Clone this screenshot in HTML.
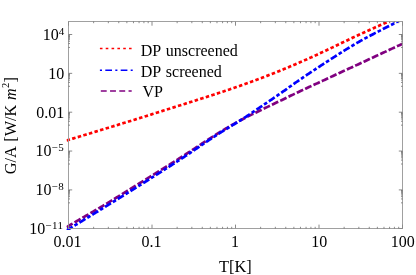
<!DOCTYPE html>
<html><head><meta charset="utf-8"><style>
html,body{margin:0;padding:0;background:#fff;}
svg{display:block;}
text{font-family:"Liberation Serif",serif;font-size:16px;fill:#000;word-spacing:1.3px;}
.t{font-size:16px;}
.sup{font-size:11px;}
.fr line,.fr rect{stroke:#a0a0a0;stroke-width:1;fill:none;}
.fr line.m{stroke:#666;stroke-width:0.75;}
.fr line.M{stroke:#8a8a8a;}
.c{fill:none;stroke-width:2.7;}
</style></head><body>
<svg style="will-change:transform" width="416" height="275" viewBox="0 0 416 275">
<rect width="416" height="275" fill="#fff"/>
<defs><clipPath id="cp"><rect x="66.5" y="21.5" width="336.0" height="208.6"/></clipPath></defs>
<g clip-path="url(#cp)">
<path class="c" d="M66.60,140.47 L67.60,140.17 L68.60,139.87 L69.60,139.57 L70.60,139.27 L71.60,138.97 L72.60,138.66 L73.60,138.36 L74.60,138.06 L75.60,137.76 L76.60,137.45 L77.60,137.15 L78.60,136.85 L79.60,136.54 L80.60,136.24 L81.60,135.93 L82.60,135.63 L83.59,135.32 L84.59,135.02 L85.59,134.71 L86.59,134.41 L87.59,134.10 L88.59,133.79 L89.59,133.49 L90.59,133.18 L91.59,132.88 L92.59,132.57 L93.59,132.26 L94.59,131.96 L95.59,131.65 L96.59,131.34 L97.59,131.04 L98.59,130.73 L99.59,130.43 L100.59,130.12 L101.59,129.81 L102.59,129.51 L103.59,129.20 L104.59,128.90 L105.59,128.59 L106.59,128.29 L107.59,127.98 L108.59,127.67 L109.59,127.37 L110.59,127.06 L111.59,126.76 L112.59,126.45 L113.59,126.15 L114.59,125.84 L115.59,125.53 L116.59,125.23 L117.58,124.92 L118.58,124.61 L119.58,124.31 L120.58,124.00 L121.58,123.69 L122.58,123.39 L123.58,123.08 L124.58,122.77 L125.58,122.46 L126.58,122.16 L127.58,121.85 L128.58,121.54 L129.58,121.23 L130.58,120.92 L131.58,120.61 L132.58,120.30 L133.58,119.99 L134.58,119.68 L135.58,119.37 L136.58,119.06 L137.58,118.75 L138.58,118.43 L139.58,118.12 L140.58,117.81 L141.58,117.50 L142.58,117.18 L143.58,116.87 L144.58,116.56 L145.58,116.24 L146.58,115.93 L147.58,115.62 L148.58,115.30 L149.58,114.99 L150.57,114.67 L151.57,114.36 L152.57,114.04 L153.57,113.73 L154.57,113.41 L155.57,113.10 L156.57,112.78 L157.57,112.47 L158.57,112.15 L159.57,111.84 L160.57,111.52 L161.57,111.20 L162.57,110.89 L163.57,110.57 L164.57,110.25 L165.57,109.94 L166.57,109.62 L167.57,109.30 L168.57,108.99 L169.57,108.67 L170.57,108.35 L171.57,108.04 L172.57,107.72 L173.57,107.40 L174.57,107.09 L175.57,106.77 L176.57,106.45 L177.57,106.14 L178.57,105.82 L179.57,105.50 L180.57,105.19 L181.57,104.87 L182.57,104.55 L183.57,104.24 L184.56,103.92 L185.56,103.60 L186.56,103.29 L187.56,102.97 L188.56,102.65 L189.56,102.34 L190.56,102.02 L191.56,101.71 L192.56,101.39 L193.56,101.07 L194.56,100.76 L195.56,100.44 L196.56,100.13 L197.56,99.81 L198.56,99.49 L199.56,99.18 L200.56,98.86 L201.56,98.54 L202.56,98.22 L203.56,97.91 L204.56,97.59 L205.56,97.27 L206.56,96.95 L207.56,96.63 L208.56,96.31 L209.56,95.99 L210.56,95.67 L211.56,95.35 L212.56,95.03 L213.56,94.70 L214.56,94.38 L215.56,94.05 L216.56,93.73 L217.56,93.40 L218.55,93.07 L219.55,92.75 L220.55,92.42 L221.55,92.09 L222.55,91.76 L223.55,91.42 L224.55,91.09 L225.55,90.76 L226.55,90.42 L227.55,90.09 L228.55,89.75 L229.55,89.41 L230.55,89.07 L231.55,88.73 L232.55,88.39 L233.55,88.04 L234.55,87.70 L235.55,87.35 L236.55,87.01 L237.55,86.66 L238.55,86.31 L239.55,85.96 L240.55,85.61 L241.55,85.25 L242.55,84.90 L243.55,84.54 L244.55,84.18 L245.55,83.83 L246.55,83.47 L247.55,83.10 L248.55,82.74 L249.55,82.38 L250.55,82.01 L251.54,81.65 L252.54,81.28 L253.54,80.91 L254.54,80.54 L255.54,80.17 L256.54,79.80 L257.54,79.42 L258.54,79.05 L259.54,78.67 L260.54,78.30 L261.54,77.92 L262.54,77.54 L263.54,77.16 L264.54,76.78 L265.54,76.39 L266.54,76.01 L267.54,75.62 L268.54,75.24 L269.54,74.85 L270.54,74.46 L271.54,74.07 L272.54,73.67 L273.54,73.28 L274.54,72.89 L275.54,72.49 L276.54,72.09 L277.54,71.69 L278.54,71.29 L279.54,70.89 L280.54,70.48 L281.54,70.08 L282.54,69.67 L283.54,69.26 L284.54,68.85 L285.53,68.44 L286.53,68.02 L287.53,67.61 L288.53,67.19 L289.53,66.77 L290.53,66.35 L291.53,65.93 L292.53,65.51 L293.53,65.08 L294.53,64.66 L295.53,64.23 L296.53,63.80 L297.53,63.37 L298.53,62.94 L299.53,62.50 L300.53,62.07 L301.53,61.63 L302.53,61.19 L303.53,60.75 L304.53,60.31 L305.53,59.87 L306.53,59.43 L307.53,58.98 L308.53,58.53 L309.53,58.09 L310.53,57.64 L311.53,57.19 L312.53,56.73 L313.53,56.28 L314.53,55.82 L315.53,55.36 L316.53,54.91 L317.53,54.45 L318.52,53.98 L319.52,53.52 L320.52,53.06 L321.52,52.59 L322.52,52.12 L323.52,51.65 L324.52,51.18 L325.52,50.71 L326.52,50.24 L327.52,49.77 L328.52,49.29 L329.52,48.82 L330.52,48.34 L331.52,47.86 L332.52,47.39 L333.52,46.91 L334.52,46.43 L335.52,45.95 L336.52,45.47 L337.52,44.99 L338.52,44.51 L339.52,44.03 L340.52,43.55 L341.52,43.07 L342.52,42.59 L343.52,42.11 L344.52,41.63 L345.52,41.15 L346.52,40.67 L347.52,40.19 L348.52,39.71 L349.52,39.24 L350.52,38.76 L351.52,38.28 L352.51,37.81 L353.51,37.34 L354.51,36.86 L355.51,36.39 L356.51,35.92 L357.51,35.46 L358.51,34.99 L359.51,34.53 L360.51,34.06 L361.51,33.60 L362.51,33.14 L363.51,32.69 L364.51,32.23 L365.51,31.78 L366.51,31.32 L367.51,30.87 L368.51,30.42 L369.51,29.97 L370.51,29.52 L371.51,29.07 L372.51,28.63 L373.51,28.18 L374.51,27.74 L375.51,27.29 L376.51,26.85 L377.51,26.40 L378.51,25.96 L379.51,25.52 L380.51,25.08 L381.51,24.63 L382.51,24.19 L383.51,23.75 L384.51,23.30 L385.51,22.86 L386.50,22.42 L387.50,21.97 L388.50,21.53 L389.50,21.08 L390.50,20.64 L391.50,20.19 L392.50,19.74 L393.50,19.29 L394.50,18.85 L395.50,18.39 L396.50,17.94 L397.50,17.49 L398.50,17.03 L399.50,16.58 L400.50,16.12 L401.50,15.66 L402.50,15.20" stroke="#ff0000" stroke-dasharray="3.5 2.33"/>
<path class="c" d="M66.60,227.14 L67.60,226.54 L68.60,225.94 L69.60,225.34 L70.60,224.75 L71.60,224.16 L72.60,223.57 L73.60,222.98 L74.60,222.39 L75.60,221.81 L76.60,221.23 L77.60,220.64 L78.60,220.06 L79.60,219.48 L80.60,218.90 L81.60,218.32 L82.60,217.74 L83.59,217.16 L84.59,216.59 L85.59,216.01 L86.59,215.43 L87.59,214.85 L88.59,214.27 L89.59,213.69 L90.59,213.11 L91.59,212.53 L92.59,211.95 L93.59,211.37 L94.59,210.79 L95.59,210.20 L96.59,209.61 L97.59,209.03 L98.59,208.44 L99.59,207.84 L100.59,207.25 L101.59,206.65 L102.59,206.06 L103.59,205.46 L104.59,204.85 L105.59,204.25 L106.59,203.64 L107.59,203.04 L108.59,202.43 L109.59,201.82 L110.59,201.21 L111.59,200.60 L112.59,199.98 L113.59,199.37 L114.59,198.75 L115.59,198.14 L116.59,197.52 L117.58,196.90 L118.58,196.28 L119.58,195.67 L120.58,195.05 L121.58,194.43 L122.58,193.81 L123.58,193.18 L124.58,192.56 L125.58,191.94 L126.58,191.32 L127.58,190.70 L128.58,190.08 L129.58,189.46 L130.58,188.84 L131.58,188.22 L132.58,187.60 L133.58,186.98 L134.58,186.36 L135.58,185.74 L136.58,185.12 L137.58,184.51 L138.58,183.89 L139.58,183.27 L140.58,182.65 L141.58,182.03 L142.58,181.41 L143.58,180.79 L144.58,180.18 L145.58,179.56 L146.58,178.94 L147.58,178.32 L148.58,177.70 L149.58,177.08 L150.57,176.46 L151.57,175.84 L152.57,175.22 L153.57,174.60 L154.57,173.98 L155.57,173.36 L156.57,172.74 L157.57,172.11 L158.57,171.49 L159.57,170.87 L160.57,170.24 L161.57,169.62 L162.57,168.99 L163.57,168.37 L164.57,167.74 L165.57,167.11 L166.57,166.49 L167.57,165.86 L168.57,165.23 L169.57,164.60 L170.57,163.97 L171.57,163.33 L172.57,162.70 L173.57,162.07 L174.57,161.43 L175.57,160.80 L176.57,160.16 L177.57,159.52 L178.57,158.88 L179.57,158.24 L180.57,157.60 L181.57,156.96 L182.57,156.32 L183.57,155.67 L184.56,155.03 L185.56,154.38 L186.56,153.74 L187.56,153.09 L188.56,152.44 L189.56,151.78 L190.56,151.13 L191.56,150.48 L192.56,149.82 L193.56,149.17 L194.56,148.51 L195.56,147.85 L196.56,147.20 L197.56,146.54 L198.56,145.88 L199.56,145.22 L200.56,144.57 L201.56,143.91 L202.56,143.25 L203.56,142.60 L204.56,141.94 L205.56,141.29 L206.56,140.64 L207.56,139.99 L208.56,139.34 L209.56,138.69 L210.56,138.05 L211.56,137.41 L212.56,136.77 L213.56,136.13 L214.56,135.50 L215.56,134.87 L216.56,134.24 L217.56,133.61 L218.55,132.99 L219.55,132.37 L220.55,131.76 L221.55,131.15 L222.55,130.54 L223.55,129.94 L224.55,129.34 L225.55,128.75 L226.55,128.16 L227.55,127.57 L228.55,126.99 L229.55,126.41 L230.55,125.84 L231.55,125.26 L232.55,124.70 L233.55,124.14 L234.55,123.58 L235.55,123.02 L236.55,122.47 L237.55,121.92 L238.55,121.38 L239.55,120.84 L240.55,120.31 L241.55,119.78 L242.55,119.25 L243.55,118.73 L244.55,118.21 L245.55,117.69 L246.55,117.18 L247.55,116.66 L248.55,116.16 L249.55,115.65 L250.55,115.15 L251.54,114.65 L252.54,114.15 L253.54,113.66 L254.54,113.16 L255.54,112.67 L256.54,112.18 L257.54,111.69 L258.54,111.21 L259.54,110.72 L260.54,110.24 L261.54,109.75 L262.54,109.27 L263.54,108.79 L264.54,108.31 L265.54,107.83 L266.54,107.35 L267.54,106.87 L268.54,106.39 L269.54,105.91 L270.54,105.43 L271.54,104.95 L272.54,104.47 L273.54,104.00 L274.54,103.52 L275.54,103.04 L276.54,102.56 L277.54,102.08 L278.54,101.60 L279.54,101.12 L280.54,100.64 L281.54,100.16 L282.54,99.68 L283.54,99.20 L284.54,98.72 L285.53,98.23 L286.53,97.75 L287.53,97.27 L288.53,96.79 L289.53,96.30 L290.53,95.82 L291.53,95.34 L292.53,94.86 L293.53,94.38 L294.53,93.90 L295.53,93.42 L296.53,92.95 L297.53,92.47 L298.53,92.00 L299.53,91.52 L300.53,91.05 L301.53,90.58 L302.53,90.11 L303.53,89.64 L304.53,89.17 L305.53,88.71 L306.53,88.24 L307.53,87.77 L308.53,87.31 L309.53,86.85 L310.53,86.38 L311.53,85.92 L312.53,85.46 L313.53,85.00 L314.53,84.53 L315.53,84.07 L316.53,83.61 L317.53,83.15 L318.52,82.68 L319.52,82.22 L320.52,81.76 L321.52,81.29 L322.52,80.83 L323.52,80.36 L324.52,79.90 L325.52,79.43 L326.52,78.97 L327.52,78.50 L328.52,78.04 L329.52,77.57 L330.52,77.10 L331.52,76.64 L332.52,76.17 L333.52,75.71 L334.52,75.24 L335.52,74.78 L336.52,74.31 L337.52,73.85 L338.52,73.39 L339.52,72.92 L340.52,72.46 L341.52,72.00 L342.52,71.54 L343.52,71.08 L344.52,70.62 L345.52,70.16 L346.52,69.70 L347.52,69.24 L348.52,68.78 L349.52,68.32 L350.52,67.86 L351.52,67.40 L352.51,66.94 L353.51,66.48 L354.51,66.03 L355.51,65.57 L356.51,65.11 L357.51,64.65 L358.51,64.19 L359.51,63.72 L360.51,63.26 L361.51,62.80 L362.51,62.34 L363.51,61.88 L364.51,61.41 L365.51,60.95 L366.51,60.48 L367.51,60.02 L368.51,59.55 L369.51,59.09 L370.51,58.62 L371.51,58.16 L372.51,57.69 L373.51,57.23 L374.51,56.76 L375.51,56.29 L376.51,55.83 L377.51,55.36 L378.51,54.90 L379.51,54.43 L380.51,53.96 L381.51,53.50 L382.51,53.03 L383.51,52.57 L384.51,52.10 L385.51,51.64 L386.50,51.17 L387.50,50.71 L388.50,50.24 L389.50,49.78 L390.50,49.32 L391.50,48.85 L392.50,48.39 L393.50,47.93 L394.50,47.47 L395.50,47.01 L396.50,46.55 L397.50,46.09 L398.50,45.63 L399.50,45.17 L400.50,44.71 L401.50,44.26 L402.50,43.80" stroke="#800080" stroke-dasharray="7 2.2"/>
<path class="c" d="M66.60,230.34 L67.60,229.74 L68.60,229.14 L69.60,228.54 L70.60,227.94 L71.60,227.34 L72.60,226.73 L73.60,226.13 L74.60,225.52 L75.60,224.92 L76.60,224.31 L77.60,223.71 L78.60,223.10 L79.60,222.49 L80.60,221.89 L81.60,221.28 L82.60,220.67 L83.59,220.06 L84.59,219.45 L85.59,218.84 L86.59,218.23 L87.59,217.62 L88.59,217.01 L89.59,216.39 L90.59,215.78 L91.59,215.17 L92.59,214.55 L93.59,213.94 L94.59,213.33 L95.59,212.71 L96.59,212.10 L97.59,211.48 L98.59,210.87 L99.59,210.25 L100.59,209.64 L101.59,209.02 L102.59,208.40 L103.59,207.79 L104.59,207.17 L105.59,206.55 L106.59,205.94 L107.59,205.32 L108.59,204.70 L109.59,204.08 L110.59,203.47 L111.59,202.85 L112.59,202.23 L113.59,201.61 L114.59,200.99 L115.59,200.37 L116.59,199.75 L117.58,199.13 L118.58,198.51 L119.58,197.89 L120.58,197.27 L121.58,196.65 L122.58,196.02 L123.58,195.40 L124.58,194.78 L125.58,194.16 L126.58,193.53 L127.58,192.91 L128.58,192.29 L129.58,191.66 L130.58,191.04 L131.58,190.41 L132.58,189.79 L133.58,189.16 L134.58,188.54 L135.58,187.91 L136.58,187.28 L137.58,186.66 L138.58,186.03 L139.58,185.40 L140.58,184.77 L141.58,184.14 L142.58,183.52 L143.58,182.89 L144.58,182.26 L145.58,181.63 L146.58,181.00 L147.58,180.37 L148.58,179.74 L149.58,179.10 L150.57,178.47 L151.57,177.84 L152.57,177.21 L153.57,176.58 L154.57,175.94 L155.57,175.31 L156.57,174.68 L157.57,174.04 L158.57,173.41 L159.57,172.77 L160.57,172.14 L161.57,171.50 L162.57,170.86 L163.57,170.23 L164.57,169.59 L165.57,168.95 L166.57,168.31 L167.57,167.67 L168.57,167.03 L169.57,166.39 L170.57,165.75 L171.57,165.11 L172.57,164.46 L173.57,163.82 L174.57,163.17 L175.57,162.52 L176.57,161.88 L177.57,161.23 L178.57,160.57 L179.57,159.92 L180.57,159.27 L181.57,158.61 L182.57,157.95 L183.57,157.29 L184.56,156.63 L185.56,155.97 L186.56,155.30 L187.56,154.63 L188.56,153.97 L189.56,153.29 L190.56,152.62 L191.56,151.95 L192.56,151.27 L193.56,150.59 L194.56,149.91 L195.56,149.23 L196.56,148.55 L197.56,147.86 L198.56,147.18 L199.56,146.50 L200.56,145.82 L201.56,145.13 L202.56,144.45 L203.56,143.77 L204.56,143.09 L205.56,142.41 L206.56,141.73 L207.56,141.06 L208.56,140.39 L209.56,139.71 L210.56,139.05 L211.56,138.38 L212.56,137.72 L213.56,137.06 L214.56,136.40 L215.56,135.75 L216.56,135.10 L217.56,134.46 L218.55,133.82 L219.55,133.18 L220.55,132.55 L221.55,131.93 L222.55,131.30 L223.55,130.69 L224.55,130.07 L225.55,129.46 L226.55,128.85 L227.55,128.24 L228.55,127.63 L229.55,127.03 L230.55,126.42 L231.55,125.81 L232.55,125.21 L233.55,124.60 L234.55,123.99 L235.55,123.37 L236.55,122.76 L237.55,122.14 L238.55,121.51 L239.55,120.89 L240.55,120.25 L241.55,119.61 L242.55,118.97 L243.55,118.32 L244.55,117.67 L245.55,117.02 L246.55,116.36 L247.55,115.70 L248.55,115.03 L249.55,114.36 L250.55,113.69 L251.54,113.02 L252.54,112.35 L253.54,111.67 L254.54,111.00 L255.54,110.32 L256.54,109.64 L257.54,108.96 L258.54,108.29 L259.54,107.61 L260.54,106.93 L261.54,106.26 L262.54,105.58 L263.54,104.91 L264.54,104.23 L265.54,103.56 L266.54,102.89 L267.54,102.21 L268.54,101.54 L269.54,100.86 L270.54,100.18 L271.54,99.51 L272.54,98.83 L273.54,98.15 L274.54,97.47 L275.54,96.78 L276.54,96.09 L277.54,95.41 L278.54,94.72 L279.54,94.02 L280.54,93.33 L281.54,92.63 L282.54,91.93 L283.54,91.22 L284.54,90.52 L285.53,89.81 L286.53,89.10 L287.53,88.39 L288.53,87.68 L289.53,86.97 L290.53,86.26 L291.53,85.55 L292.53,84.85 L293.53,84.14 L294.53,83.43 L295.53,82.73 L296.53,82.02 L297.53,81.32 L298.53,80.62 L299.53,79.93 L300.53,79.23 L301.53,78.54 L302.53,77.86 L303.53,77.17 L304.53,76.49 L305.53,75.81 L306.53,75.13 L307.53,74.46 L308.53,73.79 L309.53,73.12 L310.53,72.45 L311.53,71.79 L312.53,71.12 L313.53,70.46 L314.53,69.80 L315.53,69.14 L316.53,68.48 L317.53,67.82 L318.52,67.17 L319.52,66.51 L320.52,65.86 L321.52,65.20 L322.52,64.55 L323.52,63.90 L324.52,63.25 L325.52,62.60 L326.52,61.95 L327.52,61.30 L328.52,60.65 L329.52,60.00 L330.52,59.36 L331.52,58.71 L332.52,58.07 L333.52,57.43 L334.52,56.79 L335.52,56.15 L336.52,55.51 L337.52,54.87 L338.52,54.24 L339.52,53.60 L340.52,52.97 L341.52,52.34 L342.52,51.71 L343.52,51.09 L344.52,50.46 L345.52,49.84 L346.52,49.22 L347.52,48.60 L348.52,47.99 L349.52,47.38 L350.52,46.77 L351.52,46.17 L352.51,45.57 L353.51,44.97 L354.51,44.38 L355.51,43.79 L356.51,43.20 L357.51,42.62 L358.51,42.05 L359.51,41.48 L360.51,40.91 L361.51,40.35 L362.51,39.79 L363.51,39.24 L364.51,38.69 L365.51,38.15 L366.51,37.61 L367.51,37.08 L368.51,36.54 L369.51,36.02 L370.51,35.49 L371.51,34.97 L372.51,34.44 L373.51,33.93 L374.51,33.41 L375.51,32.90 L376.51,32.38 L377.51,31.87 L378.51,31.36 L379.51,30.85 L380.51,30.34 L381.51,29.83 L382.51,29.33 L383.51,28.82 L384.51,28.31 L385.51,27.80 L386.50,27.29 L387.50,26.79 L388.50,26.27 L389.50,25.76 L390.50,25.25 L391.50,24.74 L392.50,24.22 L393.50,23.70 L394.50,23.18 L395.50,22.66 L396.50,22.13 L397.50,21.60 L398.50,21.07 L399.50,20.53 L400.50,19.99 L401.50,19.45 L402.50,18.90" stroke="#0000ff" stroke-dasharray="7 2.2 3.6 2.2"/>
</g>
<g class="fr">
<rect x="68.5" y="21.5" width="334.0" height="207.0"/>
<line x1="68.50" y1="228.5" x2="68.50" y2="224.6" class="M"/><line x1="68.50" y1="21.5" x2="68.50" y2="25.7" class="M"/><line x1="93.64" y1="228.5" x2="93.64" y2="226.8" class="m"/><line x1="93.64" y1="21.5" x2="93.64" y2="23.2" class="m"/><line x1="108.34" y1="228.5" x2="108.34" y2="226.8" class="m"/><line x1="108.34" y1="21.5" x2="108.34" y2="23.2" class="m"/><line x1="118.77" y1="228.5" x2="118.77" y2="226.8" class="m"/><line x1="118.77" y1="21.5" x2="118.77" y2="23.2" class="m"/><line x1="126.86" y1="228.5" x2="126.86" y2="226.8" class="m"/><line x1="126.86" y1="21.5" x2="126.86" y2="23.2" class="m"/><line x1="133.48" y1="228.5" x2="133.48" y2="226.8" class="m"/><line x1="133.48" y1="21.5" x2="133.48" y2="23.2" class="m"/><line x1="139.07" y1="228.5" x2="139.07" y2="226.8" class="m"/><line x1="139.07" y1="21.5" x2="139.07" y2="23.2" class="m"/><line x1="143.91" y1="228.5" x2="143.91" y2="226.8" class="m"/><line x1="143.91" y1="21.5" x2="143.91" y2="23.2" class="m"/><line x1="148.18" y1="228.5" x2="148.18" y2="226.8" class="m"/><line x1="148.18" y1="21.5" x2="148.18" y2="23.2" class="m"/><line x1="152.00" y1="228.5" x2="152.00" y2="224.6" class="M"/><line x1="152.00" y1="21.5" x2="152.00" y2="25.7" class="M"/><line x1="177.14" y1="228.5" x2="177.14" y2="226.8" class="m"/><line x1="177.14" y1="21.5" x2="177.14" y2="23.2" class="m"/><line x1="191.84" y1="228.5" x2="191.84" y2="226.8" class="m"/><line x1="191.84" y1="21.5" x2="191.84" y2="23.2" class="m"/><line x1="202.27" y1="228.5" x2="202.27" y2="226.8" class="m"/><line x1="202.27" y1="21.5" x2="202.27" y2="23.2" class="m"/><line x1="210.36" y1="228.5" x2="210.36" y2="226.8" class="m"/><line x1="210.36" y1="21.5" x2="210.36" y2="23.2" class="m"/><line x1="216.98" y1="228.5" x2="216.98" y2="226.8" class="m"/><line x1="216.98" y1="21.5" x2="216.98" y2="23.2" class="m"/><line x1="222.57" y1="228.5" x2="222.57" y2="226.8" class="m"/><line x1="222.57" y1="21.5" x2="222.57" y2="23.2" class="m"/><line x1="227.41" y1="228.5" x2="227.41" y2="226.8" class="m"/><line x1="227.41" y1="21.5" x2="227.41" y2="23.2" class="m"/><line x1="231.68" y1="228.5" x2="231.68" y2="226.8" class="m"/><line x1="231.68" y1="21.5" x2="231.68" y2="23.2" class="m"/><line x1="235.50" y1="228.5" x2="235.50" y2="224.6" class="M"/><line x1="235.50" y1="21.5" x2="235.50" y2="25.7" class="M"/><line x1="260.64" y1="228.5" x2="260.64" y2="226.8" class="m"/><line x1="260.64" y1="21.5" x2="260.64" y2="23.2" class="m"/><line x1="275.34" y1="228.5" x2="275.34" y2="226.8" class="m"/><line x1="275.34" y1="21.5" x2="275.34" y2="23.2" class="m"/><line x1="285.77" y1="228.5" x2="285.77" y2="226.8" class="m"/><line x1="285.77" y1="21.5" x2="285.77" y2="23.2" class="m"/><line x1="293.86" y1="228.5" x2="293.86" y2="226.8" class="m"/><line x1="293.86" y1="21.5" x2="293.86" y2="23.2" class="m"/><line x1="300.48" y1="228.5" x2="300.48" y2="226.8" class="m"/><line x1="300.48" y1="21.5" x2="300.48" y2="23.2" class="m"/><line x1="306.07" y1="228.5" x2="306.07" y2="226.8" class="m"/><line x1="306.07" y1="21.5" x2="306.07" y2="23.2" class="m"/><line x1="310.91" y1="228.5" x2="310.91" y2="226.8" class="m"/><line x1="310.91" y1="21.5" x2="310.91" y2="23.2" class="m"/><line x1="315.18" y1="228.5" x2="315.18" y2="226.8" class="m"/><line x1="315.18" y1="21.5" x2="315.18" y2="23.2" class="m"/><line x1="319.00" y1="228.5" x2="319.00" y2="224.6" class="M"/><line x1="319.00" y1="21.5" x2="319.00" y2="25.7" class="M"/><line x1="344.14" y1="228.5" x2="344.14" y2="226.8" class="m"/><line x1="344.14" y1="21.5" x2="344.14" y2="23.2" class="m"/><line x1="358.84" y1="228.5" x2="358.84" y2="226.8" class="m"/><line x1="358.84" y1="21.5" x2="358.84" y2="23.2" class="m"/><line x1="369.27" y1="228.5" x2="369.27" y2="226.8" class="m"/><line x1="369.27" y1="21.5" x2="369.27" y2="23.2" class="m"/><line x1="377.36" y1="228.5" x2="377.36" y2="226.8" class="m"/><line x1="377.36" y1="21.5" x2="377.36" y2="23.2" class="m"/><line x1="383.98" y1="228.5" x2="383.98" y2="226.8" class="m"/><line x1="383.98" y1="21.5" x2="383.98" y2="23.2" class="m"/><line x1="389.57" y1="228.5" x2="389.57" y2="226.8" class="m"/><line x1="389.57" y1="21.5" x2="389.57" y2="23.2" class="m"/><line x1="394.41" y1="228.5" x2="394.41" y2="226.8" class="m"/><line x1="394.41" y1="21.5" x2="394.41" y2="23.2" class="m"/><line x1="398.68" y1="228.5" x2="398.68" y2="226.8" class="m"/><line x1="398.68" y1="21.5" x2="398.68" y2="23.2" class="m"/><line x1="402.50" y1="228.5" x2="402.50" y2="224.6" class="M"/><line x1="402.50" y1="21.5" x2="402.50" y2="25.7" class="M"/><line x1="68.5" y1="34.50" x2="72.2" y2="34.50" class="M"/><line x1="402.5" y1="34.50" x2="398.8" y2="34.50" class="M"/><line x1="68.5" y1="47.45" x2="70.0" y2="47.45" class="m"/><line x1="402.5" y1="47.45" x2="401.0" y2="47.45" class="m"/><line x1="68.5" y1="43.55" x2="70.0" y2="43.55" class="m"/><line x1="402.5" y1="43.55" x2="401.0" y2="43.55" class="m"/><line x1="68.5" y1="41.27" x2="70.0" y2="41.27" class="m"/><line x1="402.5" y1="41.27" x2="401.0" y2="41.27" class="m"/><line x1="68.5" y1="39.65" x2="70.0" y2="39.65" class="m"/><line x1="402.5" y1="39.65" x2="401.0" y2="39.65" class="m"/><line x1="68.5" y1="38.40" x2="70.0" y2="38.40" class="m"/><line x1="402.5" y1="38.40" x2="401.0" y2="38.40" class="m"/><line x1="68.5" y1="37.37" x2="70.0" y2="37.37" class="m"/><line x1="402.5" y1="37.37" x2="401.0" y2="37.37" class="m"/><line x1="68.5" y1="36.51" x2="70.0" y2="36.51" class="m"/><line x1="402.5" y1="36.51" x2="401.0" y2="36.51" class="m"/><line x1="68.5" y1="35.75" x2="70.0" y2="35.75" class="m"/><line x1="402.5" y1="35.75" x2="401.0" y2="35.75" class="m"/><line x1="68.5" y1="35.09" x2="70.0" y2="35.09" class="m"/><line x1="402.5" y1="35.09" x2="401.0" y2="35.09" class="m"/><line x1="68.5" y1="73.35" x2="72.2" y2="73.35" class="M"/><line x1="402.5" y1="73.35" x2="398.8" y2="73.35" class="M"/><line x1="68.5" y1="86.30" x2="70.0" y2="86.30" class="m"/><line x1="402.5" y1="86.30" x2="401.0" y2="86.30" class="m"/><line x1="68.5" y1="82.40" x2="70.0" y2="82.40" class="m"/><line x1="402.5" y1="82.40" x2="401.0" y2="82.40" class="m"/><line x1="68.5" y1="80.12" x2="70.0" y2="80.12" class="m"/><line x1="402.5" y1="80.12" x2="401.0" y2="80.12" class="m"/><line x1="68.5" y1="78.50" x2="70.0" y2="78.50" class="m"/><line x1="402.5" y1="78.50" x2="401.0" y2="78.50" class="m"/><line x1="68.5" y1="77.25" x2="70.0" y2="77.25" class="m"/><line x1="402.5" y1="77.25" x2="401.0" y2="77.25" class="m"/><line x1="68.5" y1="76.22" x2="70.0" y2="76.22" class="m"/><line x1="402.5" y1="76.22" x2="401.0" y2="76.22" class="m"/><line x1="68.5" y1="75.36" x2="70.0" y2="75.36" class="m"/><line x1="402.5" y1="75.36" x2="401.0" y2="75.36" class="m"/><line x1="68.5" y1="74.60" x2="70.0" y2="74.60" class="m"/><line x1="402.5" y1="74.60" x2="401.0" y2="74.60" class="m"/><line x1="68.5" y1="73.94" x2="70.0" y2="73.94" class="m"/><line x1="402.5" y1="73.94" x2="401.0" y2="73.94" class="m"/><line x1="68.5" y1="112.20" x2="72.2" y2="112.20" class="M"/><line x1="402.5" y1="112.20" x2="398.8" y2="112.20" class="M"/><line x1="68.5" y1="125.15" x2="70.0" y2="125.15" class="m"/><line x1="402.5" y1="125.15" x2="401.0" y2="125.15" class="m"/><line x1="68.5" y1="121.25" x2="70.0" y2="121.25" class="m"/><line x1="402.5" y1="121.25" x2="401.0" y2="121.25" class="m"/><line x1="68.5" y1="118.97" x2="70.0" y2="118.97" class="m"/><line x1="402.5" y1="118.97" x2="401.0" y2="118.97" class="m"/><line x1="68.5" y1="117.35" x2="70.0" y2="117.35" class="m"/><line x1="402.5" y1="117.35" x2="401.0" y2="117.35" class="m"/><line x1="68.5" y1="116.10" x2="70.0" y2="116.10" class="m"/><line x1="402.5" y1="116.10" x2="401.0" y2="116.10" class="m"/><line x1="68.5" y1="115.07" x2="70.0" y2="115.07" class="m"/><line x1="402.5" y1="115.07" x2="401.0" y2="115.07" class="m"/><line x1="68.5" y1="114.21" x2="70.0" y2="114.21" class="m"/><line x1="402.5" y1="114.21" x2="401.0" y2="114.21" class="m"/><line x1="68.5" y1="113.45" x2="70.0" y2="113.45" class="m"/><line x1="402.5" y1="113.45" x2="401.0" y2="113.45" class="m"/><line x1="68.5" y1="112.79" x2="70.0" y2="112.79" class="m"/><line x1="402.5" y1="112.79" x2="401.0" y2="112.79" class="m"/><line x1="68.5" y1="151.05" x2="72.2" y2="151.05" class="M"/><line x1="402.5" y1="151.05" x2="398.8" y2="151.05" class="M"/><line x1="68.5" y1="164.00" x2="70.0" y2="164.00" class="m"/><line x1="402.5" y1="164.00" x2="401.0" y2="164.00" class="m"/><line x1="68.5" y1="160.10" x2="70.0" y2="160.10" class="m"/><line x1="402.5" y1="160.10" x2="401.0" y2="160.10" class="m"/><line x1="68.5" y1="157.82" x2="70.0" y2="157.82" class="m"/><line x1="402.5" y1="157.82" x2="401.0" y2="157.82" class="m"/><line x1="68.5" y1="156.20" x2="70.0" y2="156.20" class="m"/><line x1="402.5" y1="156.20" x2="401.0" y2="156.20" class="m"/><line x1="68.5" y1="154.95" x2="70.0" y2="154.95" class="m"/><line x1="402.5" y1="154.95" x2="401.0" y2="154.95" class="m"/><line x1="68.5" y1="153.92" x2="70.0" y2="153.92" class="m"/><line x1="402.5" y1="153.92" x2="401.0" y2="153.92" class="m"/><line x1="68.5" y1="153.06" x2="70.0" y2="153.06" class="m"/><line x1="402.5" y1="153.06" x2="401.0" y2="153.06" class="m"/><line x1="68.5" y1="152.30" x2="70.0" y2="152.30" class="m"/><line x1="402.5" y1="152.30" x2="401.0" y2="152.30" class="m"/><line x1="68.5" y1="151.64" x2="70.0" y2="151.64" class="m"/><line x1="402.5" y1="151.64" x2="401.0" y2="151.64" class="m"/><line x1="68.5" y1="189.90" x2="72.2" y2="189.90" class="M"/><line x1="402.5" y1="189.90" x2="398.8" y2="189.90" class="M"/><line x1="68.5" y1="202.85" x2="70.0" y2="202.85" class="m"/><line x1="402.5" y1="202.85" x2="401.0" y2="202.85" class="m"/><line x1="68.5" y1="198.95" x2="70.0" y2="198.95" class="m"/><line x1="402.5" y1="198.95" x2="401.0" y2="198.95" class="m"/><line x1="68.5" y1="196.67" x2="70.0" y2="196.67" class="m"/><line x1="402.5" y1="196.67" x2="401.0" y2="196.67" class="m"/><line x1="68.5" y1="195.05" x2="70.0" y2="195.05" class="m"/><line x1="402.5" y1="195.05" x2="401.0" y2="195.05" class="m"/><line x1="68.5" y1="193.80" x2="70.0" y2="193.80" class="m"/><line x1="402.5" y1="193.80" x2="401.0" y2="193.80" class="m"/><line x1="68.5" y1="192.77" x2="70.0" y2="192.77" class="m"/><line x1="402.5" y1="192.77" x2="401.0" y2="192.77" class="m"/><line x1="68.5" y1="191.91" x2="70.0" y2="191.91" class="m"/><line x1="402.5" y1="191.91" x2="401.0" y2="191.91" class="m"/><line x1="68.5" y1="191.15" x2="70.0" y2="191.15" class="m"/><line x1="402.5" y1="191.15" x2="401.0" y2="191.15" class="m"/><line x1="68.5" y1="190.49" x2="70.0" y2="190.49" class="m"/><line x1="402.5" y1="190.49" x2="401.0" y2="190.49" class="m"/><line x1="68.5" y1="228.50" x2="72.2" y2="228.50" class="M"/><line x1="402.5" y1="228.50" x2="398.8" y2="228.50" class="M"/>
</g>
<text class="t" x="64.3" y="39.90" text-anchor="end">10<tspan class="sup" dy="-5.4">4</tspan></text>
<text class="t" x="64.3" y="78.75" text-anchor="end">10</text>
<text class="t" x="64.3" y="117.60" text-anchor="end">0.01</text>
<text class="t" x="64.3" y="156.45" text-anchor="end">10<tspan class="sup" dy="-5.4" letter-spacing="0.5">−5</tspan></text>
<text class="t" x="64.3" y="195.30" text-anchor="end">10<tspan class="sup" dy="-5.4" letter-spacing="0.5">−8</tspan></text>
<text class="t" x="63.5" y="233.90" text-anchor="end">10<tspan class="sup" dy="-5.4" letter-spacing="0.5">−11</tspan></text>

<text class="t" x="67.60" y="246.8" text-anchor="middle">0.01</text>
<text class="t" x="151.40" y="246.8" text-anchor="middle">0.1</text>
<text class="t" x="235.00" y="246.8" text-anchor="middle">1</text>
<text class="t" x="319.30" y="246.8" text-anchor="middle">10</text>
<text class="t" x="402.80" y="246.8" text-anchor="middle">100</text>

<text class="t" x="235.4" y="271.6" text-anchor="middle" style="font-size:16.4px">T[K]</text>
<g transform="translate(16.4,174.2) rotate(-90)">
<text class="t" x="0" y="0" style="word-spacing:1.3px;font-size:16.3px">G/A [W/K</text>
<text class="t" x="74.2" y="0" font-style="italic">m</text>
<text x="86.3" y="-7.7" style="font-size:10.5px">2</text>
<text class="t" x="91.8" y="0">]</text>
</g>
<g fill="none" stroke-width="1.5">
<line x1="99.9" y1="48.5" x2="131.6" y2="48.5" stroke="#ff0000" stroke-dasharray="2.6 3.23"/>
<line x1="99.9" y1="70.3" x2="132.7" y2="70.3" stroke="#0000ff" stroke-dasharray="2.1 3.3 6.7 3.3"/>
<line x1="100.8" y1="91.0" x2="131.7" y2="91.0" stroke="#800080" stroke-dasharray="5.9 3.35"/>
</g>
<text x="140.7" y="56">DP unscreened</text>
<text x="140.7" y="76.7">DP screened</text>
<text x="142.4" y="97.3">VP</text>
</svg>
</body></html>
